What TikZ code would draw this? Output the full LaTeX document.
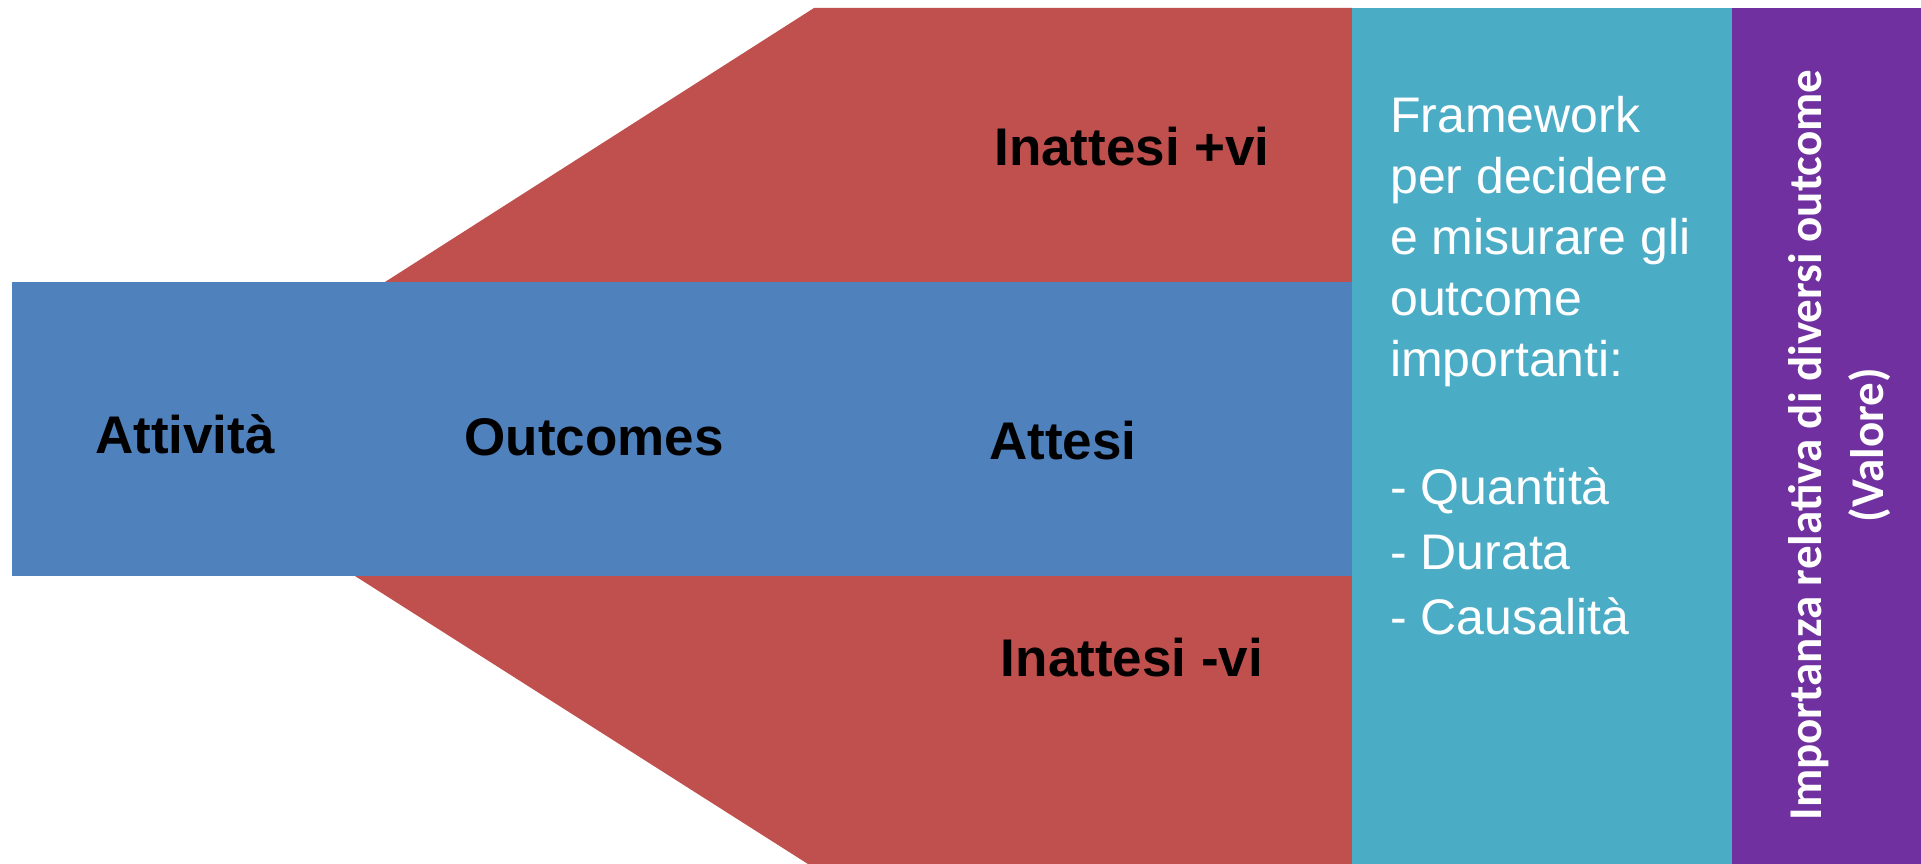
\documentclass[tikz,border=0pt]{standalone}
\usepackage{fontspec}
\setmainfont{Liberation Sans}
\newfontfamily\calib{Carlito}
\definecolor{cblue}{HTML}{4F81BD}
\definecolor{cred}{HTML}{C0504D}
\definecolor{cteal}{HTML}{4BACC6}
\definecolor{cpurple}{HTML}{7030A0}
\tikzset{
  lbl/.style={font=\fontsize{53}{60}\selectfont\bfseries, text=black, inner sep=0pt},
  wtxt/.style={font=\fontsize{50}{61}\selectfont, text=white, inner sep=0pt, align=left},
}
\begin{document}
\begin{tikzpicture}[x=1pt,y=-1pt]
\useasboundingbox (0,0) rectangle (1921,864);
\fill[white] (0,0) rectangle (1921,864);
% red wedges
\fill[cred] (385,282) -- (814,8) -- (1352,8) -- (1352,282) -- cycle;
\fill[cred] (355,576) -- (808,864) -- (1352,864) -- (1352,576) -- cycle;
% blue bar
\fill[cblue] (12,282) rectangle (1352,576);
% teal and purple columns
\fill[cteal] (1352,8) rectangle (1732,864);
\fill[cpurple] (1732,8) rectangle (1921,864);
% labels
\node[lbl] (att) at (185,434) {Attività};
\node[lbl] (out) at (594,437) {Outcomes};
\node[lbl] (ats) at (1063,441) {Attesi};
\node[lbl] (pos) at (1132,147) {Inattesi +vi};
\node[lbl] (neg) at (1132,658) {Inattesi -vi};
\node[wtxt, anchor=base west] (fw) at (1390,376) {Framework\\per decidere\\e misurare gli\\outcome\\importanti:};
\node[wtxt, font=\fontsize{50}{65}\selectfont, anchor=base west] (lst) at (1390,634) {- Quantità\\- Durata\\- Causalità};
\node[rotate=90, text=white, inner sep=0pt, align=center, font=\calib\fontsize{47}{62}\selectfont\bfseries] (val) at (1840,445) {Importanza relativa di diversi outcome\\(Valore)};
\end{tikzpicture}
\end{document}
